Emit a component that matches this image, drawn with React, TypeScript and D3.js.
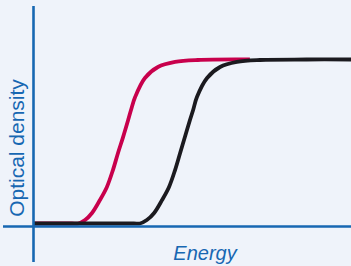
import React from 'react';
import * as d3 from 'd3';

// Absorption edge: optical density vs energy (arbitrary units)
const redEnergy = [0, 0.6, 1.2, 1.39, 1.61, 1.83, 2.08, 2.3, 2.49, 2.65, 2.81, 2.97, 3.06, 3.19, 3.5, 3.91, 4.45, 5.17, 6.81];
const redDensity = [0, 0, 0, 0, 0.021, 0.064, 0.143, 0.223, 0.326, 0.43, 0.527, 0.631, 0.692, 0.771, 0.887, 0.954, 0.985, 0.997, 1];

const blackEnergy = [0, 1.6, 3.15, 3.34, 3.56, 3.79, 4.04, 4.26, 4.45, 4.61, 4.76, 4.92, 5.02, 5.14, 5.46, 5.87, 6.4, 7.13, 8.6, 10];
const blackDensity = [0, 0, 0, 0, 0.021, 0.064, 0.143, 0.223, 0.326, 0.43, 0.527, 0.631, 0.692, 0.771, 0.887, 0.954, 0.985, 0.997, 1, 1];

const xLabel = 'Energy';
const yLabel = 'Optical density';

const width = 351;
const height = 266;
const blue = '#1767b2';

export default function App() {
  // chart area
  const x = d3.scaleLinear().domain([0, 10]).range([34, 351]);
  const y = d3.scaleLinear().domain([0, 1]).range([223.5, 59.5]);

  const line = d3
    .line<[number, number]>()
    .x((d) => x(d[0]))
    .y((d) => y(d[1]))
    .curve(d3.curveCatmullRom.alpha(0.5));

  const redPts = redEnergy.map((e, i) => [e, redDensity[i]] as [number, number]);
  const blackPts = blackEnergy.map((e, i) => [e, blackDensity[i]] as [number, number]);

  return (
    <svg
      width={width}
      height={height}
      style={{ position: 'absolute', left: 0, top: 0, background: '#eff3fa' }}
    >
      <rect width={width} height={height} fill="#eff3fa" />
      <path d={line(redPts) ?? ''} fill="none" stroke="#c8004c" strokeWidth={3.8} />
      <path d={line(blackPts) ?? ''} fill="none" stroke="#1b1a1f" strokeWidth={3.8} />

      {/* axes */}
      <line x1={3} x2={351} y1={226.5} y2={226.5} stroke={blue} strokeWidth={2.6} />
      <line x1={33.5} x2={33.5} y1={6} y2={262} stroke={blue} strokeWidth={2.6} />

      <text
        x={205}
        y={260}
        textAnchor="middle"
        fill={blue}
        fontFamily="Liberation Sans, Arial, sans-serif"
        fontSize={20}
        fontStyle="italic"
      >
        {xLabel}
      </text>
      <text
        transform="translate(24,148) rotate(-90)"
        textAnchor="middle"
        fill={blue}
        fontFamily="Liberation Sans, Arial, sans-serif"
        fontSize={21}
      >
        {yLabel}
      </text>
    </svg>
  );
}
